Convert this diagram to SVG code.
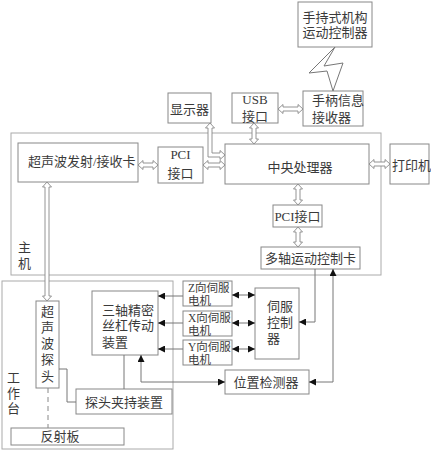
<svg xmlns="http://www.w3.org/2000/svg" width="431" height="450" viewBox="0 0 431 450">
<style>
.b{fill:#fff;stroke:#888;stroke-width:1}
.g{fill:none;stroke:#aaa;stroke-width:1}
.t{font-family:"Liberation Serif","Noto Sans CJK SC",serif;font-size:13px;fill:#3a3a3a}
.s{font-size:11.5px}
.m{text-anchor:middle}
.c{fill:none;stroke:#777;stroke-width:1}
.h{fill:#fff;stroke:#888;stroke-width:0.9}
.d{fill:none;stroke:#888;stroke-width:1;stroke-dasharray:5,4}
</style>
<defs>
<marker id="a" viewBox="0 0 8 8" refX="8" refY="4" markerWidth="7" markerHeight="7" markerUnits="userSpaceOnUse" orient="auto-start-reverse">
<path d="M0,0 L8,4 L0,8 z" fill="#111"/>
</marker>
</defs>
<rect width="431" height="450" fill="#fff"/>
<g id="host">
<rect class="g" x="11" y="133" width="370" height="142"/>
<text class="t" x="18" y="252">主</text>
<text class="t" x="18" y="268">机</text>
</g>
<g id="workbench">
<rect class="g" x="2" y="281" width="171" height="168"/>
<text class="t" x="7" y="382">工</text>
<text class="t" x="7" y="398">作</text>
<text class="t" x="7" y="413">台</text>
</g>
<g id="handheld">
<rect class="b" x="298" y="2" width="74" height="45"/>
<text class="t m" x="335" y="22">手持式机构</text>
<text class="t m" x="335" y="37">运动控制器</text>
</g>
<g id="display">
<rect class="b" x="168" y="93" width="43" height="30"/>
<text class="t m" x="189.5" y="114">显示器</text>
</g>
<g id="usb">
<rect class="b" x="232" y="93" width="46" height="30"/>
<text class="t m" x="255" y="104">USB</text>
<text class="t m" x="255" y="121">接口</text>
</g>
<g id="receiver">
<rect class="b" x="303" y="91" width="60" height="35"/>
<text class="t" x="312" y="105">手柄信息</text>
<text class="t" x="312" y="122">接收器</text>
</g>
<g id="ultrasonic-card">
<rect class="b" x="18" y="143" width="120" height="39"/>
<text class="t" x="28" y="166">超声波发射/接收卡</text>
</g>
<g id="pci-left">
<rect class="b" x="158" y="147" width="45" height="36"/>
<text class="t m" x="180.5" y="159">PCI</text>
<text class="t m" x="180.5" y="178">接口</text>
</g>
<g id="cpu">
<rect class="b" x="225" y="144" width="144" height="40"/>
<text class="t m" x="300" y="172">中央处理器</text>
</g>
<g id="printer">
<rect class="b" x="390" y="144" width="39" height="40"/>
<text class="t" x="392" y="170">打印机</text>
</g>
<g id="pci-mid">
<rect class="b" x="273" y="205" width="49" height="22"/>
<text class="t m" x="297.5" y="221">PCI接口</text>
</g>
<g id="motion-card">
<rect class="b" x="261" y="247" width="99" height="22"/>
<text class="t m" x="310.5" y="263">多轴运动控制卡</text>
</g>
<g id="z-motor">
<rect class="b" x="183" y="281" width="49" height="25"/>
<text class="t s" x="188" y="292">Z向伺服</text>
<text class="t s" x="188" y="305">电机</text>
</g>
<g id="x-motor">
<rect class="b" x="183" y="311" width="49" height="25"/>
<text class="t s" x="188" y="322">X向伺服</text>
<text class="t s" x="188" y="335">电机</text>
</g>
<g id="y-motor">
<rect class="b" x="183" y="340" width="49" height="25"/>
<text class="t s" x="188" y="351">Y向伺服</text>
<text class="t s" x="188" y="364">电机</text>
</g>
<g id="screw-drive">
<rect class="b" x="92" y="291" width="66" height="64"/>
<text class="t" x="102" y="315">三轴精密</text>
<text class="t" x="102" y="330">丝杠传动</text>
<text class="t" x="102" y="347">装置</text>
</g>
<g id="servo-ctrl">
<rect class="b" x="255" y="288" width="44" height="71"/>
<text class="t" x="267" y="311">伺服</text>
<text class="t" x="267" y="327">控制</text>
<text class="t" x="267" y="343">器</text>
</g>
<g id="position-detector">
<rect class="b" x="225" y="370" width="84" height="24"/>
<text class="t m" x="266" y="387">位置检测器</text>
</g>
<g id="probe">
<rect class="b" x="36" y="301" width="23" height="87"/>
<text class="t m" x="47.5" y="316">超</text>
<text class="t m" x="47.5" y="332">声</text>
<text class="t m" x="47.5" y="348">波</text>
<text class="t m" x="47.5" y="364">探</text>
<text class="t m" x="47.5" y="381">头</text>
</g>
<g id="probe-holder">
<rect class="b" x="76" y="389" width="96" height="25"/>
<text class="t m" x="124" y="407">探头夹持装置</text>
</g>
<g id="reflector">
<rect class="b" x="11" y="428" width="113" height="17"/>
<text class="t m" x="60" y="441">反射板</text>
</g>
<g id="connectors">
<polygon class="c" points="335,47 309,73 327,71 333,91 343,63 324,66"/>
<path class="h" d="M278,109 l5,-4.5 v2.5 h15 v-2.5 l5,4.5 l-5,4.5 v-2.5 h-15 v2.5 z"/>
<path class="h" d="M254,123 l4.5,5 h-2.5 v11 h2.5 l-4.5,5 l-4.5,-5 h2.5 v-11 h-2.5 z"/>
<path class="h" d="M210,123 l4.5,5 h-2.5 v25 h8 v-2.5 l5,4.5 l-5,4.5 v-2.5 h-12 v-29 h-2.5 z"/>
<path class="h" d="M138,165 l5,-4.5 v2.5 h10 v-2.5 l5,4.5 l-5,4.5 v-2.5 h-10 v2.5 z"/>
<path class="h" d="M203,165 l5,-4.5 v2.5 h12 v-2.5 l5,4.5 l-5,4.5 v-2.5 h-12 v2.5 z"/>
<path class="h" d="M369,164 l5,-4.5 v2.5 h11 v-2.5 l5,4.5 l-5,4.5 v-2.5 h-11 v2.5 z"/>
<path class="h" d="M298,184 l4.5,5 h-2.5 v11 h2.5 l-4.5,5 l-4.5,-5 h2.5 v-11 h-2.5 z"/>
<path class="h" d="M298,227 l4.5,5 h-2.5 v10 h2.5 l-4.5,5 l-4.5,-5 h2.5 v-10 h-2.5 z"/>
<path class="h" d="M47,182 l4.5,5 h-2.5 v109 h2.5 l-4.5,5 l-4.5,-5 h2.5 v-109 h-2.5 z"/>
<polyline class="c" points="315,269 315,322 299,322" marker-end="url(#a)"/>
<polyline class="c" points="309,382 333,382 333,269" marker-start="url(#a)" marker-end="url(#a)"/>
<line class="c" x1="232" y1="295" x2="255" y2="295" marker-start="url(#a)" marker-end="url(#a)"/>
<line class="c" x1="232" y1="323" x2="255" y2="323" marker-start="url(#a)" marker-end="url(#a)"/>
<line class="c" x1="232" y1="349" x2="255" y2="349" marker-start="url(#a)" marker-end="url(#a)"/>
<line class="c" x1="183" y1="296" x2="158" y2="296" marker-end="url(#a)"/>
<line class="c" x1="183" y1="323" x2="158" y2="323" marker-end="url(#a)"/>
<line class="c" x1="183" y1="349" x2="158" y2="349" marker-end="url(#a)"/>
<polyline class="c" points="141,355 141,382 225,382" marker-start="url(#a)" marker-end="url(#a)"/>
<line class="c" x1="124" y1="355" x2="124" y2="389"/>
<polyline class="c" points="59,369 67,369 67,402 76,402"/>
<line class="d" x1="48" y1="388" x2="48" y2="428"/>
</g>
</svg>
